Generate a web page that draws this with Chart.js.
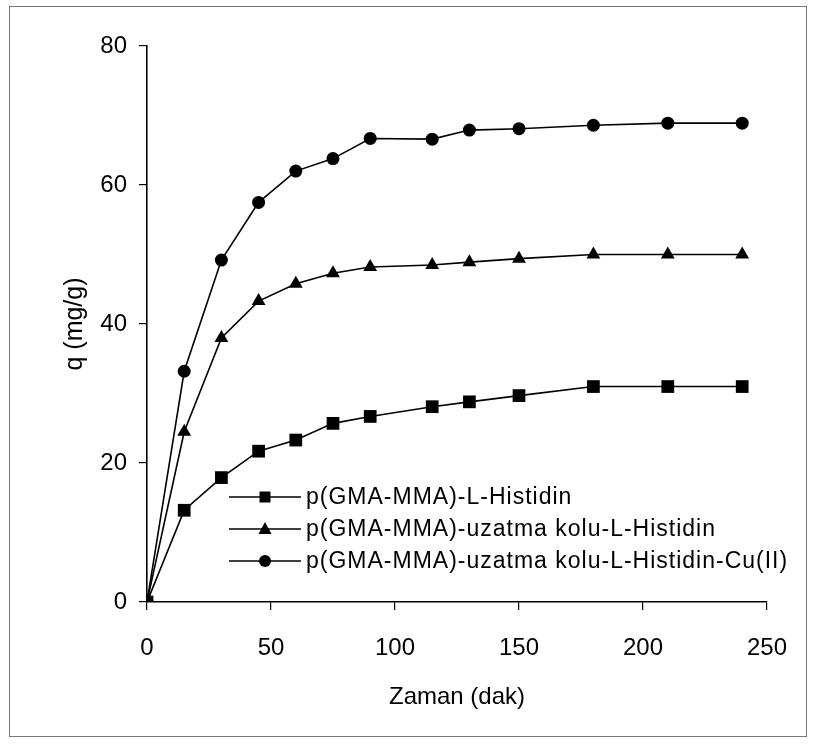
<!DOCTYPE html>
<html>
<head>
<meta charset="utf-8">
<script src="https://cdn.jsdelivr.net/npm/chart.js@4"></script>
<style>
  html, body { margin: 0; padding: 0; background: #fff; }
  #wrap { position: relative; width: 816px; height: 750px; }
  #frame {
    position: absolute; left: 9px; top: 6px; width: 798px; height: 731px;
    border: 1px solid #777; box-sizing: border-box; pointer-events: none;
  }
</style>
</head>
<body>
<div id="wrap">
  <canvas id="chart" width="816" height="750"></canvas>
  <div id="frame"></div>
</div>
<script>
// Time points (dak)
const times = [0, 15, 30, 45, 60, 75, 90, 115, 130, 150, 180, 210, 240];

// q (mg/g)
const histidin = [0, 13.2, 17.9, 21.7, 23.3, 25.7, 26.7, 28.1, 28.8, 29.7, 31.0, 31.0, 31.0];
const uzatmaHistidin = [0, 24.5, 38.0, 43.3, 45.8, 47.3, 48.2, 48.5, 48.9, 49.4, 50.0, 50.0, 50.0];
const uzatmaCu = [0, 33.2, 49.2, 57.5, 62.0, 63.8, 66.7, 66.6, 67.9, 68.1, 68.6, 68.9, 68.9];

const seriesLabels = [
  'p(GMA-MMA)-L-Histidin',
  'p(GMA-MMA)-uzatma kolu-L-Histidin',
  'p(GMA-MMA)-uzatma kolu-L-Histidin-Cu(II)'
];

const xTicks = [0, 50, 100, 150, 200, 250];
const yTicks = [0, 20, 40, 60, 80];

const FONT = 'Arial, "Liberation Sans", sans-serif';

function toPoints(values) {
  return times.map((t, i) => ({ x: t, y: values[i] }));
}

function makeDataset(label, values, style, radius) {
  return {
    label: label,
    data: toPoints(values),
    borderColor: '#000',
    backgroundColor: '#000',
    borderWidth: 1.6,
    pointStyle: style,
    pointRadius: radius,
    pointBorderWidth: 0,
    pointBackgroundColor: '#000',
    tension: 0,
    fill: false
  };
}

// legend drawn inside the plot area, like the original figure
const insideLegend = {
  id: 'insideLegend',
  afterDraw(chart) {
    const ctx = chart.ctx;
    const rows = [497, 529, 561];
    const x0 = 229, x1 = 301, xm = 265;
    ctx.save();
    chart.data.datasets.forEach((ds, i) => {
      const y = rows[i];
      ctx.strokeStyle = '#000';
      ctx.lineWidth = 1.6;
      ctx.beginPath();
      ctx.moveTo(x0, y);
      ctx.lineTo(x1, y);
      ctx.stroke();
      ctx.fillStyle = '#000';
      ctx.beginPath();
      if (ds.pointStyle === 'rect') {
        ctx.rect(xm - 5.5, y - 5.5, 11, 11);
      } else if (ds.pointStyle === 'triangle') {
        ctx.moveTo(xm, y - 7);
        ctx.lineTo(xm + 6.5, y + 5);
        ctx.lineTo(xm - 6.5, y + 5);
        ctx.closePath();
      } else {
        ctx.arc(xm, y, 6, 0, Math.PI * 2);
      }
      ctx.fill();
      ctx.font = '23px ' + FONT;
      if ('letterSpacing' in ctx) ctx.letterSpacing = '1px';
      ctx.textBaseline = 'middle';
      ctx.textAlign = 'left';
      ctx.fillText(ds.label, 306, y + 1);
      if ('letterSpacing' in ctx) ctx.letterSpacing = '0px';
    });
    ctx.restore();
  }
};

new Chart(document.getElementById('chart'), {
  type: 'line',
  data: {
    datasets: [
      makeDataset(seriesLabels[0], histidin, 'rect', 9),
      makeDataset(seriesLabels[1], uzatmaHistidin, 'triangle', 8),
      makeDataset(seriesLabels[2], uzatmaCu, 'circle', 6.5)
    ]
  },
  options: {
    responsive: false,
    animation: false,
    layout: { padding: { left: 0, right: 49, top: 46, bottom: 0 } },
    plugins: {
      legend: { display: false },
      tooltip: { enabled: false }
    },
    scales: {
      x: {
        type: 'linear',
        min: 0,
        max: 250,
        afterBuildTicks: (scale) => { scale.ticks = xTicks.map(v => ({ value: v })); },
        afterFit: (scale) => { scale.height = 148; },
        grid: { drawOnChartArea: false, drawTicks: true, tickLength: 8, color: '#000', lineWidth: 1.2 },
        border: { display: true, color: '#000', width: 1.6 },
        ticks: { color: '#000', font: { family: FONT, size: 24 }, padding: 24, maxRotation: 0 },
        title: {
          display: true,
          text: 'Zaman (dak)',
          color: '#000',
          font: { family: FONT, size: 24 },
          padding: { top: 0, bottom: 38 }
        }
      },
      y: {
        type: 'linear',
        min: 0,
        max: 80,
        afterBuildTicks: (scale) => { scale.ticks = yTicks.map(v => ({ value: v })); },
        afterFit: (scale) => { scale.width = 147; },
        grid: { drawOnChartArea: false, drawTicks: true, tickLength: 8, color: '#000', lineWidth: 1.2 },
        border: { display: true, color: '#000', width: 1.6 },
        ticks: { color: '#000', font: { family: FONT, size: 24 }, padding: 12 },
        title: {
          display: true,
          text: 'q (mg/g)',
          color: '#000',
          font: { family: FONT, size: 25 },
          padding: { top: 60, bottom: 0 }
        }
      }
    }
  },
  plugins: [insideLegend]
});
</script>
</body>
</html>
